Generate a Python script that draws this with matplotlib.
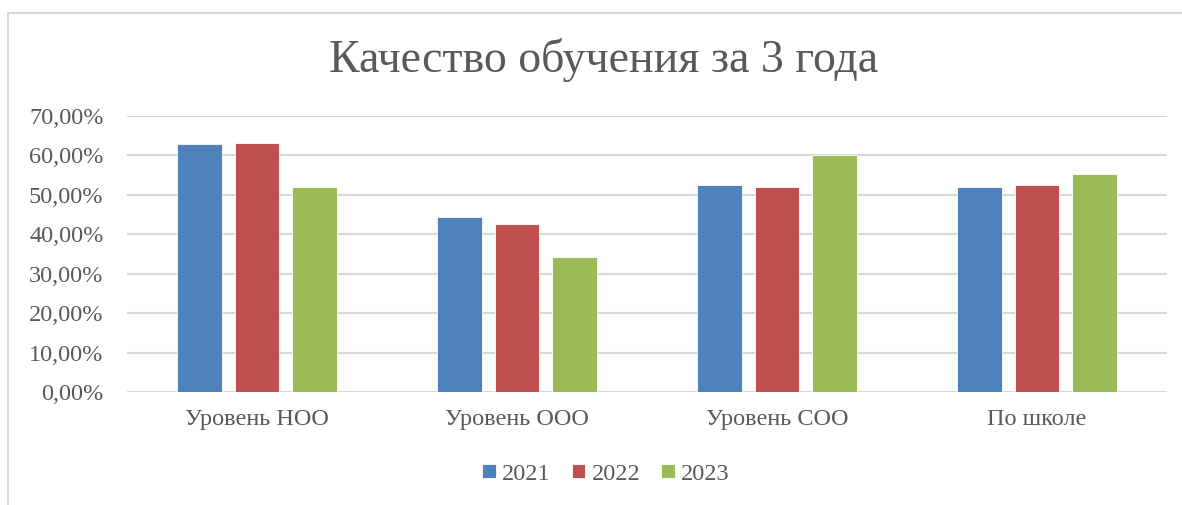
import matplotlib.pyplot as plt
import matplotlib.patches as mpatches
import numpy as np

categories = ["Уровень НОО", "Уровень ООО", "Уровень СОО", "По школе"]
years = ["2021", "2022", "2023"]
values_2021 = [0.630, 0.444, 0.524, 0.521]
values_2022 = [0.631, 0.425, 0.521, 0.526]
values_2023 = [0.519, 0.343, 0.601, 0.553]
colors = ["#4F81BD", "#C0504D", "#9BBB59"]

plt.rcParams['font.family'] = ['Liberation Serif', 'DejaVu Serif']
text_col = "#595959"
fs = 17.5

W, H = 1182, 505
fig = plt.figure(figsize=(W / 100, H / 100), dpi=100)

# chart frame (only left/top edges show)
fig.patches.append(mpatches.Rectangle((8 / W, -0.1), 1.2, 1 - 13 / H + 0.1,
                                      transform=fig.transFigure, fill=False,
                                      edgecolor="#D9D9D9", lw=1.5))

ax = fig.add_axes([127 / W, 1 - 392 / H, (1167 - 127) / W, (392 - 116) / H])

x = np.arange(len(categories))
width = 0.173
step = 0.222
series = [values_2021, values_2022, values_2023]
for i, (vals, col, yr) in enumerate(zip(series, colors, years)):
    ax.bar(x + (i - 1) * step, vals, width, color=col, label=yr,
           edgecolor="white", linewidth=0.6, zorder=3)

ax.set_xlim(-0.5, len(categories) - 0.5)
ax.set_ylim(0, 0.7)
yt = np.arange(0, 0.71, 0.1)
ax.set_yticks(yt)
ax.set_yticklabels([f"{v * 100:.2f}%".replace(".", ",") for v in yt],
                   fontsize=fs, color=text_col)
ax.set_xticks(x)
ax.set_xticklabels(categories, fontsize=fs, color=text_col)
ax.tick_params(axis="y", length=0, pad=17)
ax.tick_params(axis="x", length=0, pad=12)
ax.grid(axis="y", color="#D9D9D9", lw=1.5, zorder=0)
ax.set_axisbelow(True)
for s in ax.spines.values():
    s.set_visible(False)

fig.text(603.5 / W, 1 - 72 / H, "Качество обучения за 3 года", ha="center", va="baseline",
         fontsize=33, color=text_col)

fig.legend(loc="center", bbox_to_anchor=(606 / W, 1 - 474 / H), ncol=3, frameon=False,
           fontsize=fs, handlelength=0.55, handleheight=0.55, handletextpad=0.27,
           columnspacing=0.86, labelcolor=text_col)

fig.savefig("out.png", dpi=100)
